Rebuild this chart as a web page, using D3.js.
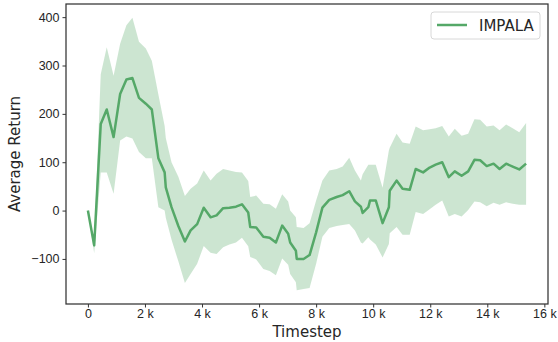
<!DOCTYPE html>
<html>
<head>
<meta charset="utf-8">
<script src="https://cdn.jsdelivr.net/npm/d3@7"></script>
<style>
    body { margin: 0; background: #fff; }
    svg { display: block; font-family: "DejaVu Sans", sans-serif; }
</style>
</head>
<body>
<div class="container"></div>
<script>
// timesteps of each evaluation point
var timesteps = [0, 220, 450, 660, 900, 1130, 1350, 1560, 1790, 2030,
    2240, 2470, 2690, 2730, 2930, 3170, 3400, 3600, 3830, 4060,
    4300, 4510, 4740, 4960, 5190, 5400, 5620, 5690, 5900, 6150,
    6370, 6590, 6810, 7020, 7090, 7290, 7320, 7560, 7770, 8000,
    8220, 8460, 8720, 8930, 9160, 9360, 9570, 9630, 9830, 9890,
    10090, 10330, 10550, 10580, 10820, 11030, 11280, 11490, 11750, 11980,
    12190, 12420, 12650, 12860, 13100, 13330, 13550, 13750, 13980, 14220,
    14430, 14660, 14890, 15120, 15360];

var meanReturn = [0, -72, 179, 209, 152, 241, 271, 274, 233, 221,
    209, 108, 79, 48, 7, -32, -64, -41, -28, 6,
    -14, -10, 5, 6, 8, 13, -4, -34, -35, -54,
    -56, -66, -31, -48, -66, -83, -100, -100, -92, -45,
    6, 22, 28, 32, 40, 19, 8, -5, 7, 21,
    21, -26, 7, 41, 62, 45, 43, 86, 79, 89,
    95, 100, 69, 81, 72, 81, 105, 104, 92, 97,
    86, 97, 91, 85, 97];

var upperReturn = [0, -62, 282, 338, 279, 345, 383, 399, 349, 335,
    310, 240, 175, 150, 100, 70, 30, 45, 56, 83,
    62, 76, 86, 83, 80, 79, 61, 28, 31, 14,
    13, 4, 34, 19, 0, -14, -34, -36, -26, 21,
    62, 83, 86, 91, 109, 83, 62, 75, 95, 95,
    95, 47, 124, 130, 159, 141, 138, 174, 166, 168,
    170, 175, 153, 169, 155, 159, 189, 188, 174, 176,
    166, 178, 170, 162, 181];

var lowerReturn = [0, -88, 79, 79, 35, 145, 153, 149, 121, 108,
    108, 7, 0, -15, -60, -105, -150, -131, -110, -73,
    -87, -90, -76, -70, -66, -56, -74, -96, -101, -121,
    -125, -134, -99, -112, -131, -148, -165, -162, -160, -110,
    -54, -36, -32, -30, -28, -41, -66, -68, -55, -60,
    -70, -97, -69, -47, -34, -50, -50, -3, -7, 3,
    12, 21, -12, -7, -12, 1, 19, 17, 9, 16,
    12, 17, 14, 12, 12];

var xTicks = [0, 2000, 4000, 6000, 8000, 10000, 12000, 14000, 16000];
var yTicks = [-100, 0, 100, 200, 300, 400];
var seriesName = "IMPALA";

var config = {
    width: 558,
    height: 342,
    margin: { top: 4, right: 10, bottom: 38, left: 66 },
    color: "#55a868",
    text: "#262626",
    spine: "#333333"
}

var rows = timesteps.map((t, i) => ({ t: t, mean: meanReturn[i], hi: upperReturn[i], lo: lowerReturn[i] }));

var padded = (lo, hi) => {
    var pad = (hi - lo) * 0.05;
    return [lo - pad, hi + pad];
}

var svg = d3.select(".container").append("svg")
    .attr("width", config.width)
    .attr("height", config.height);

var plotW = config.width - config.margin.left - config.margin.right;
var plotH = config.height - config.margin.top - config.margin.bottom;

var x = d3.scaleLinear()
    .domain(padded(d3.min(timesteps), d3.max(timesteps)))
    .range([0, plotW]);

var y = d3.scaleLinear()
    .domain(padded(d3.min(lowerReturn), d3.max(upperReturn)))
    .range([plotH, 0]);

var g = svg.append("g")
    .attr("transform", `translate(${config.margin.left},${config.margin.top})`);

// std band
g.append("path")
    .datum(rows)
    .attr("fill", config.color)
    .attr("fill-opacity", 0.3)
    .attr("d", d3.area().x((d) => x(d.t)).y0((d) => y(d.lo)).y1((d) => y(d.hi)));

// mean line
g.append("path")
    .datum(rows)
    .attr("fill", "none")
    .attr("stroke", config.color)
    .attr("stroke-width", 2.5)
    .attr("stroke-linejoin", "round")
    .attr("d", d3.line().x((d) => x(d.t)).y((d) => y(d.mean)));

var xAxis = g.append("g")
    .attr("transform", `translate(0,${plotH})`)
    .call(d3.axisBottom(x).tickValues(xTicks).tickSize(3.5).tickPadding(2)
        .tickFormat((d) => d === 0 ? "0" : `${d / 1000} k`));

var yAxis = g.append("g")
    .call(d3.axisLeft(y).tickValues(yTicks).tickSize(3.5).tickPadding(3)
        .tickFormat((d) => d < 0 ? `\u2212${-d}` : `${d}`));

[xAxis, yAxis].forEach((a) => {
    a.select(".domain").remove();
    a.selectAll("line").attr("stroke", config.spine).attr("stroke-width", 1);
    a.selectAll("text").attr("fill", config.text).style("font-size", "12.5px");
});

// frame
g.append("rect")
    .attr("width", plotW)
    .attr("height", plotH)
    .attr("fill", "none")
    .attr("stroke", config.spine)
    .attr("stroke-width", 1.25);

svg.append("text")
    .attr("x", config.margin.left + plotW / 2)
    .attr("y", 337)
    .attr("text-anchor", "middle")
    .attr("fill", config.text)
    .style("font-size", "15px")
    .text("Timestep");

svg.append("text")
    .attr("transform", `translate(20,${config.margin.top + plotH / 2}) rotate(-90)`)
    .attr("text-anchor", "middle")
    .attr("fill", config.text)
    .style("font-size", "15px")
    .text("Average Return");

// legend
var legend = svg.append("g").attr("transform", "translate(431,12)");
legend.append("rect")
    .attr("width", 109)
    .attr("height", 27)
    .attr("rx", 3)
    .attr("fill", "#fff")
    .attr("fill-opacity", 0.8)
    .attr("stroke", "#d8d8d8");
legend.append("line")
    .attr("x1", 6).attr("x2", 36)
    .attr("y1", 13).attr("y2", 13)
    .attr("stroke", config.color)
    .attr("stroke-width", 2.5);
legend.append("text")
    .attr("x", 48)
    .attr("y", 18.5)
    .attr("fill", config.text)
    .style("font-size", "15px")
    .text(seriesName);
</script>
</body>
</html>
